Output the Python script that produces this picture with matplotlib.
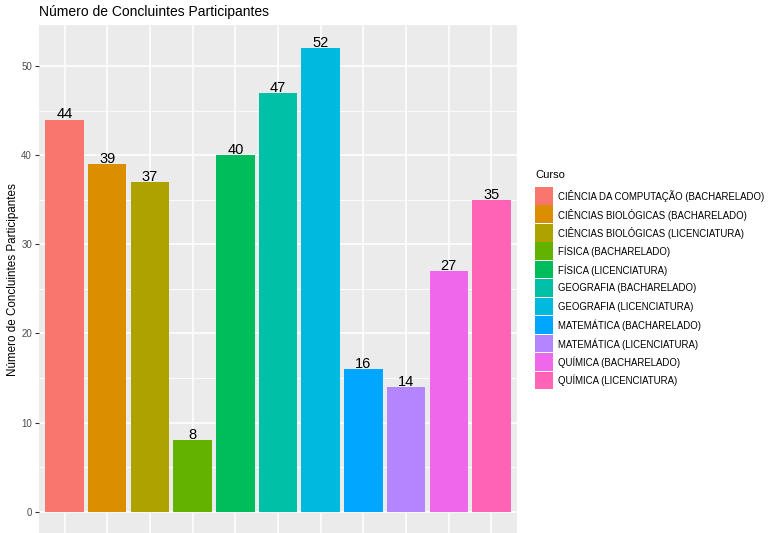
import matplotlib
matplotlib.use("Agg")
import matplotlib.pyplot as plt
from matplotlib.patches import Rectangle

plt.rcParams['font.family'] = ['Liberation Sans', 'DejaVu Sans']

cursos = [
    'CIÊNCIA DA COMPUTAÇÃO (BACHARELADO)',
    'CIÊNCIAS BIOLÓGICAS (BACHARELADO)',
    'CIÊNCIAS BIOLÓGICAS (LICENCIATURA)',
    'FÍSICA (BACHARELADO)',
    'FÍSICA (LICENCIATURA)',
    'GEOGRAFIA (BACHARELADO)',
    'GEOGRAFIA (LICENCIATURA)',
    'MATEMÁTICA (BACHARELADO)',
    'MATEMÁTICA (LICENCIATURA)',
    'QUÍMICA (BACHARELADO)',
    'QUÍMICA (LICENCIATURA)',
]
concluintes = [44, 39, 37, 8, 40, 47, 52, 16, 14, 27, 35]
cores = ['#F8766D', '#DB8E00', '#AEA200', '#64B200', '#00BD5C', '#00C1A7',
         '#00BADE', '#00A6FF', '#B385FF', '#EF67EB', '#FF63B6']

W, H = 769, 533
fig = plt.figure(figsize=(W / 100, H / 100), dpi=100)
ax = fig.add_axes([39 / W, 1 - 535 / H, (517 - 39) / W, (535 - 25) / H])

x = list(range(1, len(cursos) + 1))
ax.set_facecolor('#EBEBEB')
for s in ax.spines.values():
    s.set_visible(False)

# grid
for v in [5, 15, 25, 35, 45]:
    ax.axhline(v, color='white', lw=0.6, zorder=0)
for v in [0, 10, 20, 30, 40, 50]:
    ax.axhline(v, color='white', lw=1.1, zorder=0)
for xi in x:
    ax.axvline(xi, color='white', lw=1.1, zorder=0)

bars = ax.bar(x, concluintes, width=0.9, color=cores, zorder=2)
for xi, v in zip(x, concluintes):
    ax.text(xi, v + 0.12, str(v), ha='center', va='baseline', fontsize=10.5,
            color='black', zorder=3)

ymax = max(concluintes)
ax.set_ylim(-0.05 * ymax, ymax * 1.05)
ax.set_xlim(0.4, len(cursos) + 0.6)
ax.set_yticks([0, 10, 20, 30, 40, 50])
ax.set_xticks(x)
ax.set_xticklabels([])
ax.tick_params(axis='y', colors='#333333', labelcolor='#4D4D4D', labelsize=7,
               length=3, width=0.8, pad=2)
ax.tick_params(axis='x', colors='#333333', length=3, width=0.8)
ax.set_ylabel('Número de Concluintes Participantes', fontsize=8.4, labelpad=2)
fig.text(39 / W, 1 - 12 / H, 'Número de Concluintes Participantes',
         fontsize=10, ha='left', va='center')

# legend
fig.text(535 / W, 1 - 175 / H, 'Curso', fontsize=8, ha='left', va='center')
top = 187
step = 18.45
for i, (c, nome) in enumerate(zip(cores, cursos)):
    y0 = top + i * step
    fig.add_artist(Rectangle((535 / W, 1 - (y0 + step - 0.8) / H),
                             18 / W, (step - 0.8) / H,
                             transform=fig.transFigure, color=c, lw=0))
    fig.text(558 / W, 1 - (y0 + step / 2) / H, nome, fontsize=6.9,
             ha='left', va='center')

fig.savefig('out.png', dpi=100)
